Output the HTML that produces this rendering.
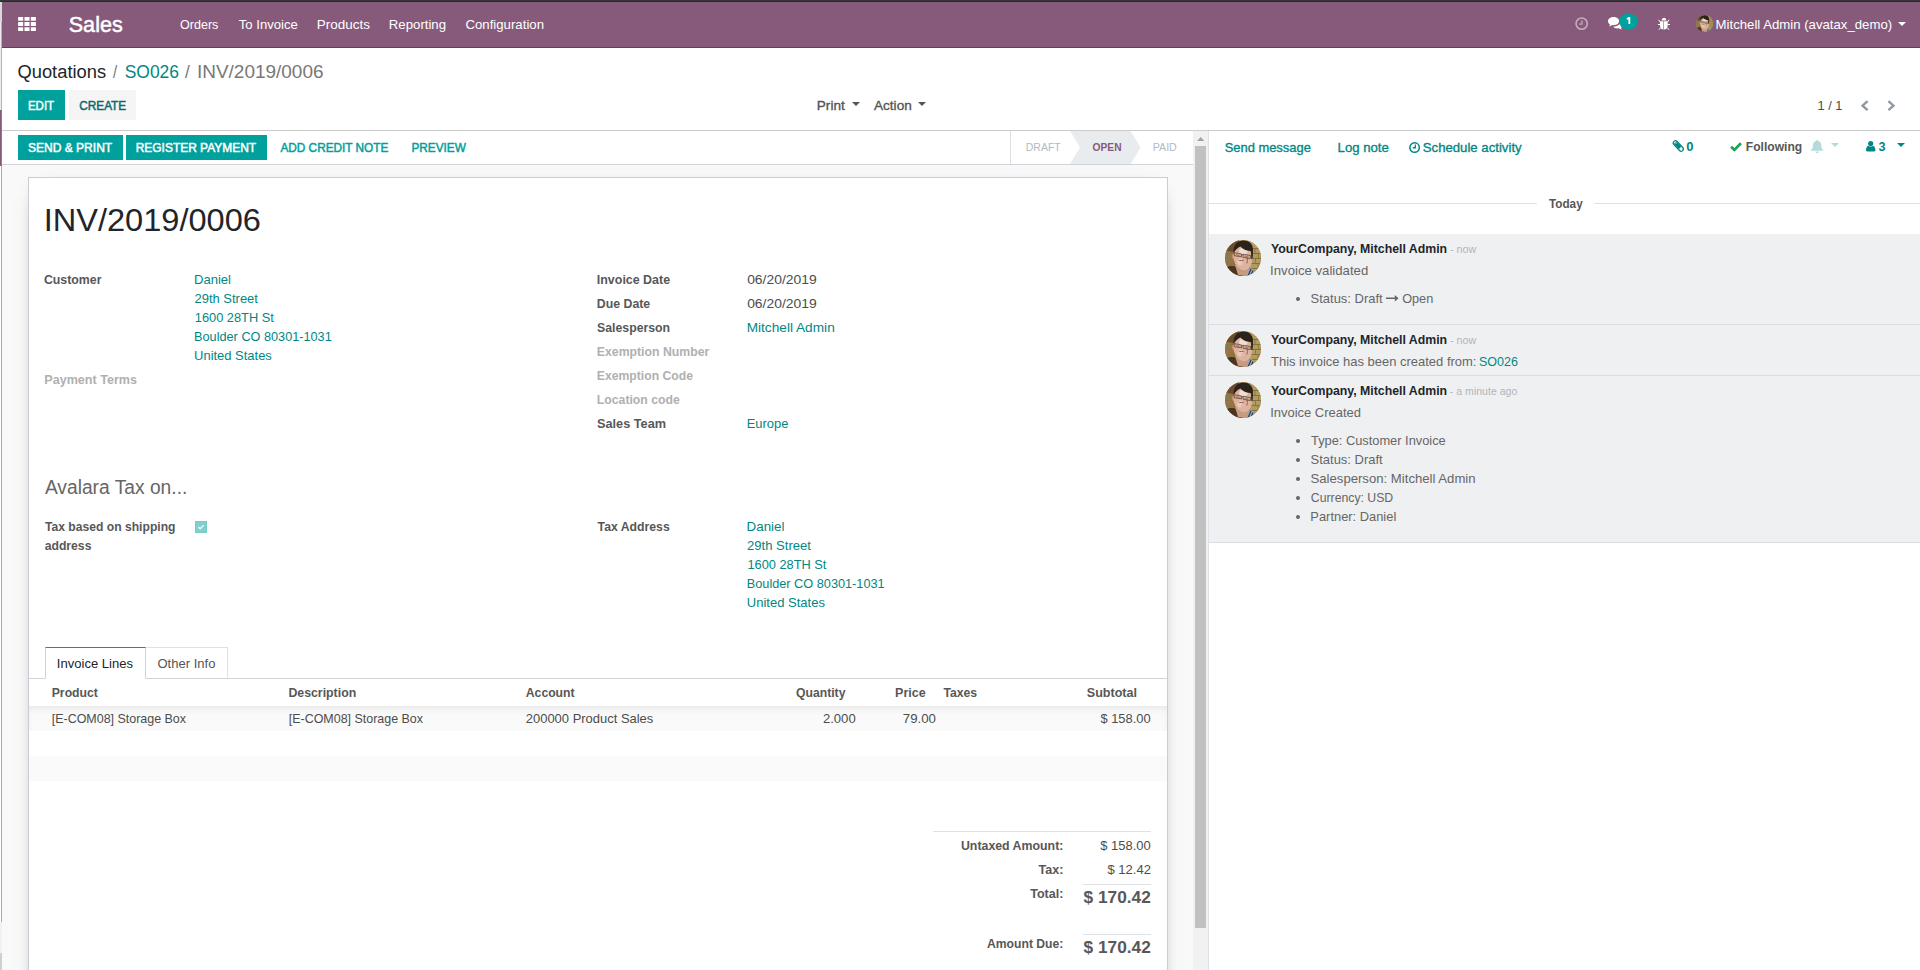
<!DOCTYPE html>
<html lang="en">
<head>
<meta charset="utf-8">
<title>INV/2019/0006 - Odoo</title>
<style>
html,body{margin:0;padding:0;width:1920px;height:970px;overflow:hidden;background:#fff;}
body{position:relative;font-family:"Liberation Sans",sans-serif;font-size:13px;color:#4c4c4c;}
.a{position:absolute;display:block;}
.t{position:absolute;display:block;white-space:pre;transform-origin:0 0;font-family:"Liberation Sans",sans-serif;}
svg{position:absolute;display:block;overflow:visible;}
.btnp{background:#00A09D;}
.caret{position:absolute;width:0;height:0;border-left:4px solid transparent;border-right:4px solid transparent;border-top:4px solid #555;}
.hl{position:absolute;height:1px;background:#dee2e6;}
.av{position:absolute;width:36px;height:36px;}
</style>
</head>
<body>
<!-- ===== window chrome slivers ===== -->
<div class="a" style="left:0;top:0;width:1920px;height:1px;background:#34373a;"></div>
<div class="a" style="left:0;top:1px;width:1920px;height:1px;background:#272928;"></div>
<div class="a" style="left:0;top:2px;width:2px;height:968px;background:#fff;"></div>
<div class="a" style="left:0;top:2px;width:2px;height:20px;background:#d9d9d9;"></div>
<div class="a" style="left:0;top:22px;width:1px;height:88px;background:#ececec;"></div>
<div class="a" style="left:1px;top:22px;width:1px;height:88px;background:#b4b4b4;"></div>
<div class="a" style="left:0;top:110px;width:1px;height:56px;background:#875A7B;"></div>
<div class="a" style="left:1px;top:110px;width:1px;height:56px;background:#96788f;"></div>
<div class="a" style="left:1px;top:166px;width:1px;height:756px;background:#ababab;"></div>
<div class="a" style="left:0;top:922px;width:2px;height:31px;background:#f2f2f2;"></div>
<div class="a" style="left:0;top:953px;width:2px;height:17px;background:#d0d0d0;"></div>

<!-- ===== navbar ===== -->
<div class="a" style="left:2px;top:2px;width:1918px;height:46px;background:#875A7B;box-shadow:inset 0 -1px 0 #643d5b;"></div>
<!-- apps icon -->
<svg style="left:18px;top:17.2px" width="18" height="14" viewBox="0 0 17.5 13.75">
 <g fill="#fff">
  <rect x="0" y="0" width="5" height="3.75" rx=".5"/><rect x="6.25" y="0" width="5" height="3.75" rx=".5"/><rect x="12.5" y="0" width="5" height="3.75" rx=".5"/>
  <rect x="0" y="5" width="5" height="3.75" rx=".5"/><rect x="6.25" y="5" width="5" height="3.75" rx=".5"/><rect x="12.5" y="5" width="5" height="3.75" rx=".5"/>
  <rect x="0" y="10" width="5" height="3.75" rx=".5"/><rect x="6.25" y="10" width="5" height="3.75" rx=".5"/><rect x="12.5" y="10" width="5" height="3.75" rx=".5"/>
 </g>
</svg>
<!-- clock (dim) -->
<svg style="left:1574.6px;top:16.8px" width="13.3" height="13.3" viewBox="0 0 14 14" opacity=".5">
 <circle cx="7" cy="7" r="5.9" fill="none" stroke="#fff" stroke-width="1.7"/>
 <path d="M7.3 3.6v4H4.4" fill="none" stroke="#fff" stroke-width="1.3"/>
</svg>
<!-- comments -->
<svg style="left:1607.6px;top:17.2px" width="15.4" height="12.6" viewBox="0 0 15.4 12.6">
 <path fill="#fff" d="M5.6 0C2.5 0 0 1.9 0 4.2c0 1.3.8 2.5 2.1 3.3-.2.7-.6 1.3-1.2 1.9 1.3-.1 2.5-.6 3.4-1.3.4.1.9.1 1.3.1 3.1 0 5.6-1.8 5.6-4.1S8.700 0 5.600 0z"/>
 <path fill="#fff" d="M12.3 4.800c0 2.700-3 4.900-6.700 4.900h-.5c.9 1 2.500 1.700 4.300 1.700.5 0 .9 0 1.300-.1.900.7 2.100 1.200 3.400 1.300-.6-.6-1-1.200-1.200-1.900 1.500-.8 2.500-2 2.500-3.300 0-1.500-1.300-2.800-3.100-3.500z"/>
</svg>
<!-- badge -->
<div class="a" style="left:1619.2px;top:13.800px;width:18.900px;height:15.400px;border-radius:7.700px;background:#00A09D;"></div>
<!-- bug -->
<svg style="left:1657px;top:17px" width="14" height="14" viewBox="0 0 14 14">
 <g fill="#fff">
  <path d="M4.700 3.600C4.700 1.600 5.700.7 7 .7s2.300.9 2.300 2.900z"/>
  <path d="M3 4.300h3.450v8.300C4.300 12.400 3 11 3 8.800z"/>
  <path d="M10.700 4.300H7v8.300c2.300-.2 3.700-1.600 3.700-3.800z"/>
 </g>
 <g stroke="#fff" stroke-width="1" fill="none">
  <path d="M.9 7.500H3M10.700 7.500H13M1.500 2.800l1.800 2.400M12.100 2.800l-1.600 2.400M2 12.700l1.500-1.800M11.800 12.700l-1.300-1.800"/>
 </g>
</svg>
<!-- badge digit -->
<svg style="left:1626px;top:17px" width="5" height="8" viewBox="0 0 5 8"><path d="M2.400.1h1.850v6.900H2.400zM2.400.1L.7 1.600v1.500l1.700-1z" fill="#fff"/></svg>
<!-- navbar avatar -->
<svg style="left:1696px;top:15px" width="17" height="17" viewBox="0 0 36 36"><use href="#avatar"/></svg>
<div class="caret" style="left:1898px;top:22.3px;border-top-color:#fff;"></div>

<!-- ===== control panel ===== -->
<div class="a btnp" style="left:18px;top:90px;width:47px;height:30px;"></div>
<div class="a" style="left:69px;top:90px;width:67px;height:30px;background:#f5f5f5;"></div>
<div class="caret" style="left:852px;top:102.300px;"></div>
<div class="caret" style="left:918.200px;top:102.300px;"></div>
<svg style="left:1859.8px;top:99.8px" width="9" height="11.4" viewBox="0 0 9 11.4"><path d="M7.600 1.200L2.500 5.700l5.100 4.500" fill="none" stroke="#8f979e" stroke-width="2.300"/></svg>
<svg style="left:1886.8px;top:99.8px" width="9" height="11.4" viewBox="0 0 9 11.4"><path d="M1.400 1.200l5.100 4.500-5.100 4.500" fill="none" stroke="#8f979e" stroke-width="2.300"/></svg>
<div class="a" style="left:2px;top:130px;width:1918px;height:1px;background:#cccccc;"></div>

<!-- ===== form area background ===== -->
<div class="a" style="left:2px;top:131px;width:1191px;height:839px;background:#f9f9f9;"></div>
<!-- statusbar -->
<div class="a" style="left:2px;top:131px;width:1191px;height:33px;background:#fff;border-bottom:1px solid #ced4da;"></div>
<div class="a btnp" style="left:18px;top:135px;width:105px;height:25px;"></div>
<div class="a btnp" style="left:126px;top:135px;width:141px;height:25px;"></div>
<div class="a" style="left:1010px;top:131px;width:1px;height:33px;background:#dee2e6;"></div>
<svg style="left:1070px;top:131px" width="72" height="33" viewBox="0 0 72 33"><path d="M0 0H60.600L70.600 16.500 60.600 33H0L10 16.500z" fill="#e9ecef"/></svg>

<!-- sheet -->
<div class="a" style="left:28px;top:177px;width:1138px;height:830px;background:#fff;border:1px solid #c8ced3;box-shadow:0 5px 20px -15px #000;"></div>
<!-- checkbox -->
<div class="a" style="left:195px;top:521px;width:10px;height:10px;background:#80d0ce;border:1px solid #77cbc9;"></div>
<svg style="left:195px;top:521px" width="12" height="12" viewBox="0 0 12 12"><path d="M3.300 6.100l1.900 1.700L8.600 4.200" fill="none" stroke="#f1f3f3" stroke-width="1.450"/></svg>

<!-- tabs -->
<div class="hl" style="left:29px;top:678px;width:1138px;background:#ced4da;"></div>
<div class="a" style="left:45px;top:647px;width:99px;height:30px;background:#fff;border:1px solid #ced4da;border-top-color:#875A7B;border-bottom-color:#fff;"></div>
<div class="a" style="left:146px;top:647px;width:81px;height:30px;border:1px solid #dee2e6;border-left:none;border-bottom:none;"></div>

<!-- table rows -->
<div class="a" style="left:29px;top:706px;width:1138px;height:25px;background:#fafafa;box-shadow:inset 0 5px 10px -4px rgba(0,0,0,.1);"></div>
<div class="a" style="left:29px;top:756px;width:1138px;height:25px;background:#fafafa;"></div>

<!-- totals lines -->
<div class="hl" style="left:933px;top:831px;width:218px;"></div>
<div class="hl" style="left:1083px;top:884px;width:68px;"></div>
<div class="hl" style="left:1083px;top:934px;width:68px;"></div>

<!-- form scrollbar -->
<div class="a" style="left:1193px;top:131px;width:15px;height:839px;background:#f1f1f1;"></div>
<div class="a" style="left:1195px;top:146px;width:11px;height:782px;background:#c1c1c1;"></div>
<svg style="left:1196.8px;top:137px" width="7.400" height="4" viewBox="0 0 7.400 4"><path d="M0 4L3.700 0l3.700 4z" fill="#a3a3a3"/></svg>

<!-- ===== chatter ===== -->
<div class="a" style="left:1208px;top:131px;width:1px;height:839px;background:#dee2e6;"></div>
<!-- clock icon teal -->
<svg style="left:1408.75px;top:141.750px" width="11.200" height="11.200" viewBox="0 0 14 14">
 <circle cx="7" cy="7" r="5.950" fill="none" stroke="#008784" stroke-width="1.900"/>
 <path d="M7.900 3.200v4H4.700" fill="none" stroke="#008784" stroke-width="1.600"/>
</svg>
<!-- paperclip -->
<svg style="left:1672px;top:139px" width="14" height="14" viewBox="0 0 14 14">
 <g transform="translate(6.300 7) rotate(47)">
  <rect x="-6.300" y="-2.200" width="12.600" height="4.400" rx="2.200" fill="none" stroke="#008784" stroke-width="1.300"/>
  <rect x="-4.700" y="-1.700" width="7.300" height="3.400" rx="1" fill="#008784"/>
  <rect x="-4.600" y="-.9" width="1.600" height="1.100" rx=".5" fill="#cfe9e8"/>
 </g>
</svg>
<!-- check -->
<svg style="left:1730.2px;top:141.500px" width="12" height="9.200" viewBox="0 0 12 9.200"><path d="M1.100 4.700l3.300 3.200L10.900 1.200" fill="none" stroke="#1aa550" stroke-width="2.700"/></svg>
<!-- bell -->
<svg style="left:1811.4px;top:139.600px" width="12.200" height="13.200" viewBox="0 0 12.200 13.200">
 <path d="M6.100 0c.6 0 1 .4 1 .9 2 .5 3.200 2.100 3.200 4.300 0 2.600.7 3.900 1.900 4.900v.7H0v-.7c1.200-1 1.900-2.300 1.900-4.900 0-2.200 1.200-3.800 3.200-4.300 0-.5.400-.9 1-.9zM4.600 11.600h3c0 .9-.7 1.600-1.500 1.600s-1.500-.7-1.500-1.600z" fill="#b2dbda"/>
</svg>
<div class="caret" style="left:1831.200px;top:143px;border-top-color:#b2dbda;"></div>
<!-- user -->
<svg style="left:1865.8px;top:141.400px" width="9.400" height="10.400" viewBox="0 0 9.400 10.400">
 <circle cx="4.700" cy="2.600" r="2.600" fill="#008784"/>
 <path d="M0 9.200C0 6.600 1 5 2.300 4.700c.7.600 1.500.9 2.400.9s1.700-.3 2.400-.9C8.400 5 9.400 6.600 9.400 9.200c0 .8-.6 1.200-1.400 1.200H1.400C.6 10.400 0 10 0 9.200z" fill="#008784"/>
</svg>
<div class="caret" style="left:1897px;top:143px;border-top-color:#008784;"></div>

<!-- Today separator -->
<div class="hl" style="left:1209px;top:203px;width:328px;"></div>
<div class="hl" style="left:1594px;top:203px;width:326px;"></div>

<!-- messages -->
<div class="a" style="left:1209px;top:234px;width:711px;height:308px;background:#eff0f2;"></div>
<div class="hl" style="left:1209px;top:324px;width:711px;background:#d9dde1;"></div>
<div class="hl" style="left:1209px;top:375px;width:711px;background:#d9dde1;"></div>
<div class="hl" style="left:1209px;top:542px;width:711px;background:#d9dde1;"></div>

<svg width="0" height="0" style="left:0;top:0">
 <defs>
  <clipPath id="avc"><circle cx="18" cy="18" r="18"/></clipPath>
  <filter id="avb" x="-10%" y="-10%" width="120%" height="120%"><feGaussianBlur stdDeviation=".7"/></filter>
  <filter id="avb2" x="-10%" y="-10%" width="120%" height="120%"><feGaussianBlur stdDeviation=".35"/></filter>
  <g id="avatar" clip-path="url(#avc)">
   <rect width="36" height="36" fill="#a58e55"/>
   <g filter="url(#avb)">
    <!-- left bricks (olive / orange-brown) -->
    <rect x="-2" y="-2" width="13" height="40" fill="#8a7440"/>
    <path d="M-2 9h11v4H-2zM-2 19h10v4.500H-2z" fill="#9b7146"/>
    <path d="M-2 14h10v4H-2zM-2 24.500h10v3H-2z" fill="#857b48"/>
    <path d="M-2 -2h16v8l-6 6-10-2z" fill="#6a4c2b"/>
    <!-- right bricks -->
    <rect x="25" y="-2" width="13" height="40" fill="#b19b5f"/>
    <path d="M26 8.500h12M26 13.500h12M26 18.500h12M25 23.500h13M24 28.500h14" stroke="#84713e" stroke-width="1"/>
    <path d="M30 8.500v5M33.500 13.500v5M30.500 18.500v5M33 23.500v5" stroke="#84713e" stroke-width=".8"/>
    <!-- shoulder / shirt -->
    <path d="M0 38V28c3-2 7-2.500 10-1.500l7 4 1 8z" fill="#4c3422"/>
    <path d="M21 30.500l5-2.500 3.500 2.500-3 8H18z" fill="#9aa9b8"/>
    <path d="M22.500 37l3.500-8M25 37.500l3-7" stroke="#2a3650" stroke-width="1.100"/>
    <!-- neck -->
    <path d="M10 25l3 10 8 1 3-8z" fill="#c99a82"/>
    <!-- ear -->
    <ellipse cx="8.300" cy="16.500" rx="1.500" ry="2.400" fill="#d08a62"/>
    <!-- face (tilted) -->
    <ellipse cx="17.800" cy="18" rx="9.200" ry="12.300" fill="#dcb39c" transform="rotate(-12 17.800 18)"/>
    <ellipse cx="19.800" cy="11.500" rx="4.300" ry="3.500" fill="#f1dcd2" transform="rotate(-12 17.800 18)"/>
    <ellipse cx="15" cy="22" rx="2.600" ry="3.400" fill="#e8c9ba"/>
    <!-- nasolabial shadow + cheek -->
    <path d="M21.800 17.500c.8 2 .8 4.200 0 6" stroke="#b0574a" stroke-width="1" fill="none"/>
    <ellipse cx="18" cy="23.800" rx="1.800" ry="1.500" fill="#e6b3b8"/>
    <!-- mouth -->
    <path d="M13 19.200c2 1.200 4.300 1.200 6 .2-.5 1.900-4.800 2.300-6-.2z" fill="#7a3b30"/>
    <path d="M13.600 19.300c1.600.8 3.500.8 4.800.2-.8.900-3.900 1-4.800-.2z" fill="#fff"/>
    <!-- hair -->
    <path d="M8.600 13C8 7 11 1 18 .6c6.500-.4 10.500 4 10 10.500l-.6 7-1.500-7c-3.500 0-8-1.500-10.500-4.500-2.500 1-5 3.500-6.800 6.400z" fill="#2a201a"/>
    <path d="M26 11l1.800 1-.2 6.500-1.400.8z" fill="#3a2a20"/>
   </g>
   <g filter="url(#avb2)">
    <!-- glasses -->
    <path d="M9.200 12.600l7.300 1.300-.1 2.900-6.900-1zM18 14.200l7.700 1.400-.4 3-7.200-1.300z" fill="rgba(70,45,40,.10)" stroke="#3a2c28" stroke-width=".6"/>
    <path d="M16.500 14.500l1.500.3" stroke="#4a3a34" stroke-width=".6"/>
    <path d="M11.300 14.800l3 .5M20.300 16.500l3 .5" stroke="#6b5550" stroke-width=".6"/>
   </g>
  </g>
 </defs>
</svg>
<svg class="av" style="left:1225px;top:240px" viewBox="0 0 36 36"><use href="#avatar"/></svg>
<svg class="av" style="left:1225px;top:331px" viewBox="0 0 36 36"><use href="#avatar"/></svg>
<svg class="av" style="left:1225px;top:382px" viewBox="0 0 36 36"><use href="#avatar"/></svg>

<!-- bullets -->
<div class="a" style="left:1296.4px;top:297px;width:4px;height:4px;border-radius:2px;background:#666;"></div>
<div class="a" style="left:1296.4px;top:439px;width:4px;height:4px;border-radius:2px;background:#666;"></div>
<div class="a" style="left:1296.4px;top:458px;width:4px;height:4px;border-radius:2px;background:#666;"></div>
<div class="a" style="left:1296.4px;top:477px;width:4px;height:4px;border-radius:2px;background:#666;"></div>
<div class="a" style="left:1296.4px;top:496px;width:4px;height:4px;border-radius:2px;background:#666;"></div>
<div class="a" style="left:1296.4px;top:515px;width:4px;height:4px;border-radius:2px;background:#666;"></div>
<!-- long arrow right -->
<svg style="left:1386.200px;top:295.200px" width="12.600" height="6.400" viewBox="0 0 12.600 6.400"><path d="M0 2.500h8.800V0l3.800 3.200-3.800 3.200V3.900H0z" fill="#666"/></svg>

<!-- ===== text ===== -->
<span class="t" style="left:68px;top:14px;font-size:22px;line-height:22px;color:#fff;-webkit-text-stroke:0.5px #fff;transform:translateX(0.73px) scaleX(0.9809);">Sales</span>
<span class="t" style="left:180px;top:18px;font-size:13px;line-height:13px;color:#fff;transform:translateX(0.06px) scaleX(0.9648);">Orders</span>
<span class="t" style="left:238px;top:18px;font-size:13px;line-height:13px;color:#fff;transform:translateX(0.83px) scaleX(1.0068);">To Invoice</span>
<span class="t" style="left:316px;top:18px;font-size:13px;line-height:13px;color:#fff;transform:translateX(0.74px) scaleX(1.0359);">Products</span>
<span class="t" style="left:388px;top:18px;font-size:13px;line-height:13px;color:#fff;transform:translateX(0.83px) scaleX(1.0151);">Reporting</span>
<span class="t" style="left:465px;top:18px;font-size:13px;line-height:13px;color:#fff;transform:translateX(0.42px) scaleX(1.0165);">Configuration</span>
<span class="t" style="left:1715px;top:18px;font-size:13px;line-height:13px;color:#fff;transform:translateX(0.56px) scaleX(1.0140);">Mitchell Admin (avatax_demo)</span>
<span class="t" style="left:17px;top:63px;font-size:18px;line-height:18px;color:#212529;transform:translateX(0.51px) scaleX(1.0171);">Quotations</span>
<span class="t" style="left:113px;top:63px;font-size:18px;line-height:18px;color:#777;transform:translateX(0.07px) scaleX(0.8229);">/</span>
<span class="t" style="left:124px;top:63px;font-size:18px;line-height:18px;color:#008784;transform:translateX(0.71px) scaleX(0.9687);">SO026</span>
<span class="t" style="left:184px;top:63px;font-size:18px;line-height:18px;color:#777;transform:translateX(0.99px) scaleX(0.9531);">/</span>
<span class="t" style="left:196px;top:63px;font-size:18px;line-height:18px;color:#777;transform:translateX(0.98px) scaleX(1.0533);">INV/2019/0006</span>
<span class="t" style="left:27px;top:99px;font-size:13px;line-height:13px;color:#fff;-webkit-text-stroke:0.5px #fff;transform:translateX(0.95px) scaleX(0.8844);">EDIT</span>
<span class="t" style="left:79px;top:99px;font-size:13px;line-height:13px;color:#0a6870;-webkit-text-stroke:0.5px #0a6870;transform:translateX(0.23px) scaleX(0.9072);">CREATE</span>
<span class="t" style="left:816px;top:99px;font-size:13px;line-height:13px;color:#555;-webkit-text-stroke:0.33px #555;transform:translateX(0.80px) scaleX(1.0452);">Print</span>
<span class="t" style="left:874px;top:99px;font-size:13px;line-height:13px;color:#555;-webkit-text-stroke:0.33px #555;transform:translateX(0.02px) scaleX(1.0433);">Action</span>
<span class="t" style="left:1817px;top:99px;font-size:13px;line-height:13px;color:#4c4c4c;transform:translateX(0.45px) scaleX(0.9853);">1 / 1</span>
<span class="t" style="left:27px;top:141px;font-size:13px;line-height:13px;color:#fff;-webkit-text-stroke:0.5px #fff;transform:translateX(0.94px) scaleX(0.9254);">SEND &amp; PRINT</span>
<span class="t" style="left:135px;top:141px;font-size:13px;line-height:13px;color:#fff;-webkit-text-stroke:0.5px #fff;transform:translateX(0.73px) scaleX(0.9187);">REGISTER PAYMENT</span>
<span class="t" style="left:280px;top:141px;font-size:13px;line-height:13px;color:#00A09D;-webkit-text-stroke:0.5px #00A09D;transform:translateX(0.41px) scaleX(0.9078);">ADD CREDIT NOTE</span>
<span class="t" style="left:411px;top:141px;font-size:13px;line-height:13px;color:#00A09D;-webkit-text-stroke:0.5px #00A09D;transform:translateX(0.40px) scaleX(0.9067);">PREVIEW</span>
<span class="t" style="left:1025px;top:142px;font-size:11px;line-height:11px;color:#b3b8c6;transform:translateX(0.77px) scaleX(0.9543);">DRAFT</span>
<span class="t" style="left:1092px;top:142px;font-size:11px;line-height:11px;color:#875A7B;font-weight:700;transform:translateX(0.57px) scaleX(0.9282);">OPEN</span>
<span class="t" style="left:1152px;top:142px;font-size:11px;line-height:11px;color:#b3b8c6;transform:translateX(0.80px) scaleX(0.9645);">PAID</span>
<span class="t" style="left:43px;top:205px;font-size:31.2px;line-height:31.2px;color:#212529;transform:translateX(0.67px) scaleX(1.0440);">INV/2019/0006</span>
<span class="t" style="left:43px;top:273px;font-size:13px;line-height:13px;color:#575757;font-weight:700;transform:translateX(0.94px) scaleX(0.9484);">Customer</span>
<span class="t" style="left:193px;top:273px;font-size:13px;line-height:13px;color:#008784;transform:translateX(0.98px) scaleX(1.0049);">Daniel</span>
<span class="t" style="left:194px;top:292px;font-size:13px;line-height:13px;color:#008784;transform:translateX(0.45px) scaleX(0.9982);">29th Street</span>
<span class="t" style="left:194px;top:311px;font-size:13px;line-height:13px;color:#008784;transform:translateX(0.77px) scaleX(0.9859);">1600 28TH St</span>
<span class="t" style="left:194px;top:330px;font-size:13px;line-height:13px;color:#008784;transform:translateX(0.08px) scaleX(0.9768);">Boulder CO 80301-1031</span>
<span class="t" style="left:194px;top:349px;font-size:13px;line-height:13px;color:#008784;transform:translateX(0.10px) scaleX(0.9957);">United States</span>
<span class="t" style="left:44px;top:373px;font-size:13px;line-height:13px;color:#b0b0b0;font-weight:700;transform:translateX(0.28px) scaleX(0.9671);">Payment Terms</span>
<span class="t" style="left:596px;top:273px;font-size:13px;line-height:13px;color:#575757;font-weight:700;transform:translateX(0.82px) scaleX(0.9564);">Invoice Date</span>
<span class="t" style="left:747px;top:273px;font-size:13px;line-height:13px;color:#4c4c4c;transform:translateX(0.14px) scaleX(1.0698);">06/20/2019</span>
<span class="t" style="left:596px;top:297px;font-size:13px;line-height:13px;color:#575757;font-weight:700;transform:translateX(0.84px) scaleX(0.9469);">Due Date</span>
<span class="t" style="left:747px;top:297px;font-size:13px;line-height:13px;color:#4c4c4c;transform:translateX(0.14px) scaleX(1.0698);">06/20/2019</span>
<span class="t" style="left:597px;top:321px;font-size:13px;line-height:13px;color:#575757;font-weight:700;transform:translateX(0.08px) scaleX(0.9445);">Salesperson</span>
<span class="t" style="left:746px;top:321px;font-size:13px;line-height:13px;color:#008784;transform:translateX(0.65px) scaleX(1.0510);">Mitchell Admin</span>
<span class="t" style="left:596px;top:345px;font-size:13px;line-height:13px;color:#b0b0b0;font-weight:700;transform:translateX(0.83px) scaleX(0.9431);">Exemption Number</span>
<span class="t" style="left:596px;top:369px;font-size:13px;line-height:13px;color:#b0b0b0;font-weight:700;transform:translateX(0.85px) scaleX(0.9365);">Exemption Code</span>
<span class="t" style="left:596px;top:393px;font-size:13px;line-height:13px;color:#b0b0b0;font-weight:700;transform:translateX(0.85px) scaleX(0.9408);">Location code</span>
<span class="t" style="left:597px;top:417px;font-size:13px;line-height:13px;color:#575757;font-weight:700;transform:translateX(0.04px) scaleX(0.9773);">Sales Team</span>
<span class="t" style="left:746px;top:417px;font-size:13px;line-height:13px;color:#008784;transform:translateX(0.69px) scaleX(0.9942);">Europe</span>
<span class="t" style="left:44px;top:478px;font-size:19.5px;line-height:19.5px;color:#666;transform:translateX(0.89px) scaleX(0.9854);">Avalara Tax on...</span>
<span class="t" style="left:44px;top:520px;font-size:13px;line-height:13px;color:#575757;font-weight:700;transform:translateX(0.98px) scaleX(0.9329);">Tax based on shipping</span>
<span class="t" style="left:44px;top:539px;font-size:13px;line-height:13px;color:#575757;font-weight:700;transform:translateX(0.69px) scaleX(0.9369);">address</span>
<span class="t" style="left:597px;top:520px;font-size:13px;line-height:13px;color:#575757;font-weight:700;transform:translateX(0.59px) scaleX(0.9419);">Tax Address</span>
<span class="t" style="left:746px;top:520px;font-size:13px;line-height:13px;color:#008784;transform:translateX(0.59px) scaleX(1.0253);">Daniel</span>
<span class="t" style="left:747px;top:539px;font-size:13px;line-height:13px;color:#008784;transform:translateX(0.07px) scaleX(1.0030);">29th Street</span>
<span class="t" style="left:747px;top:558px;font-size:13px;line-height:13px;color:#008784;transform:translateX(0.43px) scaleX(0.9846);">1600 28TH St</span>
<span class="t" style="left:746px;top:577px;font-size:13px;line-height:13px;color:#008784;transform:translateX(0.75px) scaleX(0.9783);">Boulder CO 80301-1031</span>
<span class="t" style="left:746px;top:596px;font-size:13px;line-height:13px;color:#008784;transform:translateX(0.80px) scaleX(1.0012);">United States</span>
<span class="t" style="left:56px;top:657px;font-size:13px;line-height:13px;color:#212529;transform:translateX(0.86px) scaleX(1.0039);">Invoice Lines</span>
<span class="t" style="left:157px;top:657px;font-size:13px;line-height:13px;color:#555;transform:translateX(0.47px) scaleX(1.0023);">Other Info</span>
<span class="t" style="left:51px;top:686px;font-size:13px;line-height:13px;color:#575757;font-weight:700;transform:translateX(0.71px) scaleX(0.9414);">Product</span>
<span class="t" style="left:288px;top:686px;font-size:13px;line-height:13px;color:#575757;font-weight:700;transform:translateX(0.38px) scaleX(0.9486);">Description</span>
<span class="t" style="left:525px;top:686px;font-size:13px;line-height:13px;color:#575757;font-weight:700;transform:translateX(0.79px) scaleX(0.9380);">Account</span>
<span class="t" style="left:796px;top:686px;font-size:13px;line-height:13px;color:#575757;font-weight:700;transform:translateX(0.03px) scaleX(0.9373);">Quantity</span>
<span class="t" style="left:895px;top:686px;font-size:13px;line-height:13px;color:#575757;font-weight:700;transform:translateX(0.04px) scaleX(0.9620);">Price</span>
<span class="t" style="left:943px;top:686px;font-size:13px;line-height:13px;color:#575757;font-weight:700;transform:translateX(0.42px) scaleX(0.9395);">Taxes</span>
<span class="t" style="left:1086px;top:686px;font-size:13px;line-height:13px;color:#575757;font-weight:700;transform:translateX(0.77px) scaleX(0.9656);">Subtotal</span>
<span class="t" style="left:51px;top:712px;font-size:13px;line-height:13px;color:#4c4c4c;transform:translateX(0.76px) scaleX(0.9577);">[E-COM08] Storage Box</span>
<span class="t" style="left:288px;top:712px;font-size:13px;line-height:13px;color:#4c4c4c;transform:translateX(0.76px) scaleX(0.9577);">[E-COM08] Storage Box</span>
<span class="t" style="left:525px;top:712px;font-size:13px;line-height:13px;color:#4c4c4c;transform:translateX(0.80px) scaleX(0.9966);">200000 Product Sales</span>
<span class="t" style="left:822px;top:712px;font-size:13px;line-height:13px;color:#4c4c4c;transform:translateX(0.88px) scaleX(1.0087);">2.000</span>
<span class="t" style="left:902px;top:712px;font-size:13px;line-height:13px;color:#4c4c4c;transform:translateX(0.85px) scaleX(1.0183);">79.00</span>
<span class="t" style="left:1100px;top:712px;font-size:13px;line-height:13px;color:#4c4c4c;transform:translateX(0.40px) scaleX(0.9919);">$ 158.00</span>
<span class="t" style="left:960px;top:839px;font-size:13px;line-height:13px;color:#575757;font-weight:700;transform:translateX(0.95px) scaleX(0.9495);">Untaxed Amount:</span>
<span class="t" style="left:1100px;top:839px;font-size:13px;line-height:13px;color:#4c4c4c;transform:translateX(0.30px) scaleX(0.9961);">$ 158.00</span>
<span class="t" style="left:1038px;top:863px;font-size:13px;line-height:13px;color:#575757;font-weight:700;transform:translateX(0.51px) scaleX(0.9673);">Tax:</span>
<span class="t" style="left:1107px;top:863px;font-size:13px;line-height:13px;color:#4c4c4c;transform:translateX(0.45px) scaleX(1.0023);">$ 12.42</span>
<span class="t" style="left:1030px;top:887px;font-size:13px;line-height:13px;color:#575757;font-weight:700;transform:translateX(0.26px) scaleX(0.9624);">Total:</span>
<span class="t" style="left:1083px;top:889px;font-size:16.4px;line-height:16.4px;color:#585858;font-weight:700;transform:translateX(0.49px) scaleX(1.0553);">$ 170.42</span>
<span class="t" style="left:987px;top:937px;font-size:13px;line-height:13px;color:#575757;font-weight:700;transform:translateX(0.02px) scaleX(0.9353);">Amount Due:</span>
<span class="t" style="left:1083px;top:939px;font-size:16.4px;line-height:16.4px;color:#585858;font-weight:700;transform:translateX(0.49px) scaleX(1.0553);">$ 170.42</span>
<span class="t" style="left:1224px;top:141px;font-size:13px;line-height:13px;color:#008784;-webkit-text-stroke:0.33px #008784;transform:translateX(0.72px) scaleX(0.9927);">Send message</span>
<span class="t" style="left:1337px;top:141px;font-size:13px;line-height:13px;color:#008784;-webkit-text-stroke:0.33px #008784;transform:translateX(0.58px) scaleX(1.0132);">Log note</span>
<span class="t" style="left:1422px;top:141px;font-size:13px;line-height:13px;color:#008784;-webkit-text-stroke:0.33px #008784;transform:translateX(0.75px) scaleX(1.0137);">Schedule activity</span>
<span class="t" style="left:1686px;top:140px;font-size:13px;line-height:13px;color:#008784;font-weight:700;transform:translateX(0.29px) scaleX(0.9994);">0</span>
<span class="t" style="left:1745px;top:140px;font-size:13px;line-height:13px;color:#575757;font-weight:700;transform:translateX(0.80px) scaleX(0.9301);">Following</span>
<span class="t" style="left:1878px;top:140px;font-size:13px;line-height:13px;color:#008784;font-weight:700;transform:translateX(0.46px) scaleX(0.9690);">3</span>
<span class="t" style="left:1548px;top:197px;font-size:13px;line-height:13px;color:#575757;font-weight:700;transform:translateX(0.98px) scaleX(0.9025);">Today</span>
<span class="t" style="left:1270px;top:242px;font-size:13px;line-height:13px;color:#212529;font-weight:700;transform:translateX(0.99px) scaleX(0.9464);">YourCompany, Mitchell Admin</span>
<span class="t" style="left:1270px;top:333px;font-size:13px;line-height:13px;color:#212529;font-weight:700;transform:translateX(0.99px) scaleX(0.9464);">YourCompany, Mitchell Admin</span>
<span class="t" style="left:1270px;top:384px;font-size:13px;line-height:13px;color:#212529;font-weight:700;transform:translateX(0.99px) scaleX(0.9464);">YourCompany, Mitchell Admin</span>
<span class="t" style="left:1449px;top:244px;font-size:11px;line-height:11px;color:#b4b4b8;transform:translateX(0.97px) scaleX(0.9756);">- now</span>
<span class="t" style="left:1449px;top:335px;font-size:11px;line-height:11px;color:#b4b4b8;transform:translateX(0.97px) scaleX(0.9756);">- now</span>
<span class="t" style="left:1449px;top:386px;font-size:11px;line-height:11px;color:#b4b4b8;transform:translateX(0.87px) scaleX(0.9583);">- a minute ago</span>
<span class="t" style="left:1270px;top:264px;font-size:13px;line-height:13px;color:#666;transform:translateX(0.12px) scaleX(1.0133);">Invoice validated</span>
<span class="t" style="left:1310px;top:292px;font-size:13px;line-height:13px;color:#666;transform:translateX(0.58px) scaleX(0.9971);">Status: Draft</span>
<span class="t" style="left:1402px;top:292px;font-size:13px;line-height:13px;color:#666;transform:translateX(0.17px) scaleX(0.9761);">Open</span>
<span class="t" style="left:1270px;top:355px;font-size:13px;line-height:13px;color:#666;transform:translateX(1.00px) scaleX(0.9975);">This invoice has been created from:</span>
<span class="t" style="left:1479px;top:355px;font-size:13px;line-height:13px;color:#008784;transform:translateX(0.02px) scaleX(0.9614);">SO026</span>
<span class="t" style="left:1270px;top:406px;font-size:13px;line-height:13px;color:#666;transform:translateX(0.19px) scaleX(0.9966);">Invoice Created</span>
<span class="t" style="left:1310px;top:434px;font-size:13px;line-height:13px;color:#666;transform:translateX(1.00px) scaleX(0.9865);">Type: Customer Invoice</span>
<span class="t" style="left:1310px;top:453px;font-size:13px;line-height:13px;color:#666;transform:translateX(0.58px) scaleX(0.9971);">Status: Draft</span>
<span class="t" style="left:1310px;top:472px;font-size:13px;line-height:13px;color:#666;transform:translateX(0.50px) scaleX(1.0110);">Salesperson: Mitchell Admin</span>
<span class="t" style="left:1310px;top:491px;font-size:13px;line-height:13px;color:#666;transform:translateX(0.84px) scaleX(0.9419);">Currency: USD</span>
<span class="t" style="left:1310px;top:510px;font-size:13px;line-height:13px;color:#666;transform:translateX(0.36px) scaleX(0.9906);">Partner: Daniel</span>
</body>
</html>
